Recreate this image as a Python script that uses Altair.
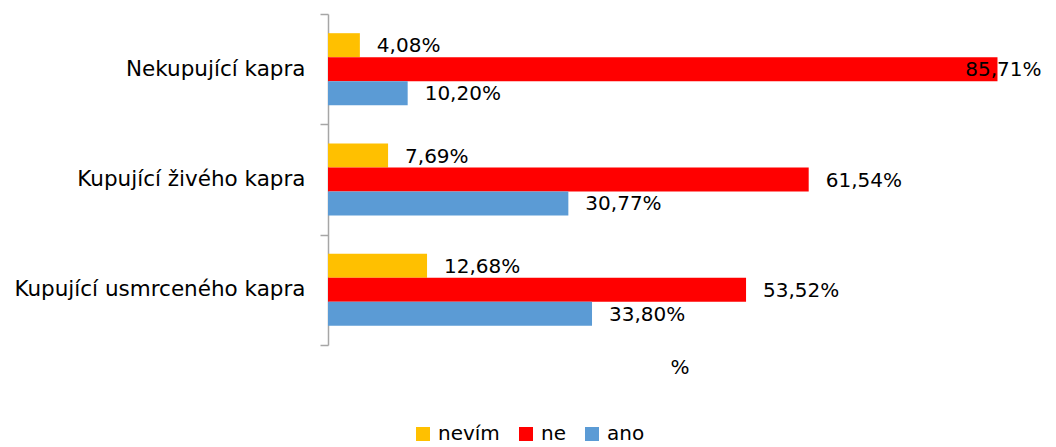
import altair as alt
import pandas as pd

categories = ["Nekupující kapra", "Kupující živého kapra", "Kupující usmrceného kapra"]
series = ["nevím", "ne", "ano"]
colors = ["#FFC000", "#FF0000", "#5B9BD5"]
nevim = [4.08, 7.69, 12.68]
ne = [85.71, 61.54, 53.52]
ano = [10.20, 30.77, 33.80]

rows = []
for i, c in enumerate(categories):
    for s, vals in zip(series, [nevim, ne, ano]):
        rows.append({"category": c, "series": s, "value": vals[i]})
df = pd.DataFrame(rows)

FONT = "DejaVu Sans"
FS = 20

y_enc = alt.Y(
    "category:N",
    sort=categories,
    scale=alt.Scale(paddingInner=0, paddingOuter=0),
    axis=alt.Axis(
        title=None, tickBand="extent", domainColor="#a6a6a6", tickColor="#a6a6a6",
        tickSize=8, domainWidth=1.5, tickWidth=1.5, labelFontSize=21.5, labelFont=FONT,
        labelColor="black", labelPadding=15, labelLimit=400,
    ),
)
yoff = alt.YOffset("series:N", sort=series, scale=alt.Scale(paddingInner=0, paddingOuter=0.8))
x_axis = alt.Axis(title="%", labels=False, ticks=False, domain=False, grid=False,
                  titleFontSize=FS, titleFont=FONT, titleFontWeight="normal",
                  titleColor="black", titlePadding=12)
x_scale = alt.Scale(domain=[0, 90], nice=False)

bars = alt.Chart(df).mark_bar().encode(
    x=alt.X("value:Q", scale=x_scale, axis=x_axis),
    y=y_enc,
    yOffset=yoff,
    color=alt.Color(
        "series:N",
        sort=series,
        scale=alt.Scale(domain=series, range=colors),
        legend=alt.Legend(
            title=None, orient="none", direction="horizontal", legendX=85, legendY=410,
            symbolType="square", symbolSize=196, symbolStrokeWidth=0, symbolOpacity=1,
            labelFontSize=FS, labelFont=FONT, labelColor="black", labelOffset=5,
            columnPadding=16,
        ),
    ),
)

texts = alt.Chart(df).transform_calculate(
    lx="min(datum.value, 79.4)",
    lbl="replace(format(datum.value, '.2f'), '.', ',') + '%'",
).mark_text(align="left", baseline="middle", dx=17, dy=1, fontSize=FS, font=FONT, color="black").encode(
    x=alt.X("lx:Q", scale=x_scale, axis=x_axis),
    y=y_enc,
    yOffset=yoff,
    text="lbl:N",
)

chart = (bars + texts).properties(
    width=703, height=331,
    autosize=alt.AutoSizeParams(type="none"),
    padding={"left": 320, "top": 6, "right": 17, "bottom": 102},
).configure(font=FONT, view=alt.ViewConfig(stroke=None))

chart.save("out.html", embed_options={"renderer": "svg", "actions": False})
